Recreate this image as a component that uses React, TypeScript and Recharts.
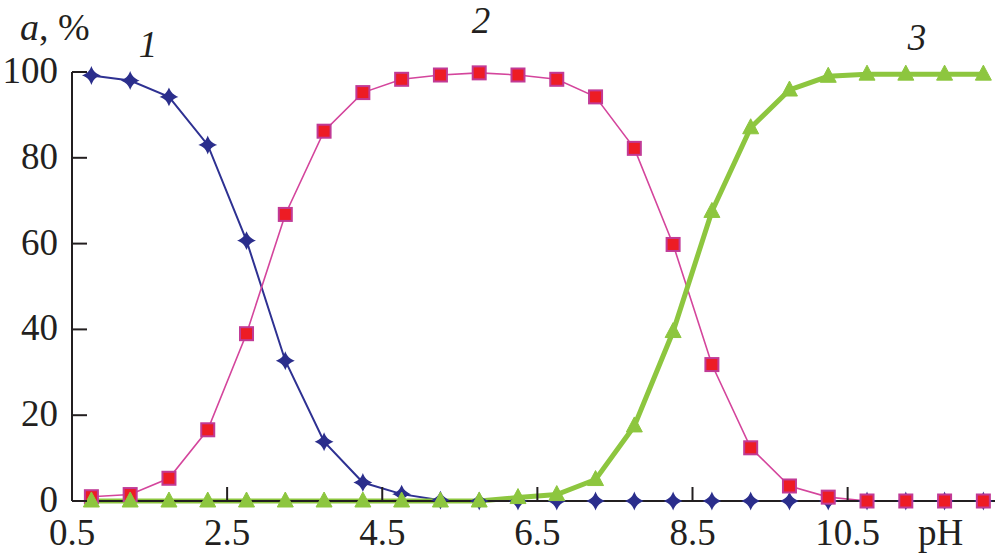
import React from 'react';
import { LineChart, Line, XAxis, YAxis } from 'recharts';

const phValues = [0.75, 1.25, 1.75, 2.25, 2.75, 3.25, 3.75, 4.25, 4.75, 5.25, 5.75, 6.25, 6.75, 7.25, 7.75, 8.25, 8.75, 9.25, 9.75, 10.25, 10.75, 11.25, 11.75, 12.25];
const speciesOne = [99.2, 98, 94.2, 83, 60.7, 32.7, 13.8, 4.3, 1.6, 0.2, 0, 0, 0, 0, 0, 0, 0, 0, 0, 0, 0, 0, 0, 0];
const speciesTwo = [1, 1.5, 5.3, 16.6, 39, 66.8, 86.2, 95.2, 98.3, 99.3, 99.8, 99.3, 98.3, 94.2, 82.2, 59.8, 31.8, 12.4, 3.5, 0.9, 0, 0, 0, 0];
const speciesThree = [0, 0, 0, 0, 0, 0, 0, 0, 0, 0, 0, 0.8, 1.5, 5, 17.5, 39.5, 67.5, 87, 95.8, 99, 99.5, 99.5, 99.5, 99.5];
const xTicks = [0.5, 2.5, 4.5, 6.5, 8.5, 10.5];
const xTickLabels = ['0.5', '2.5', '4.5', '6.5', '8.5', '10.5'];
const yTicks = [0, 20, 40, 60, 80, 100];

const data = phValues.map((ph, i) => ({
  ph,
  s1: speciesOne[i],
  s2: speciesTwo[i],
  s3: speciesThree[i],
}));

const FONT = '"Liberation Serif", "Times New Roman", Times, "Nimbus Roman", "FreeSerif", "DejaVu Serif", serif';
const INK = '#231f20';
const textStyle: React.CSSProperties = { fontFamily: FONT, fontSize: 37 };

const XTick = (props: any) => {
  const { x, y, payload } = props;
  const idx = xTicks.indexOf(payload.value);
  const label = idx >= 0 ? xTickLabels[idx] : String(payload.value);
  return (
    <g>
      <line x1={x} x2={x} y1={y} y2={y - 14} stroke={INK} strokeWidth={2} />
      <text x={x} y={y + 44} textAnchor="middle" style={textStyle} fill={INK}>
        {label}
      </text>
    </g>
  );
};

const YTick = (props: any) => {
  const { x, y, payload } = props;
  return (
    <g>
      <line x1={x} x2={x + 15} y1={y} y2={y} stroke={INK} strokeWidth={2} />
      <text x={x - 14} y={y + 11} textAnchor="end" style={textStyle} fill={INK}>
        {String(payload.value)}
      </text>
    </g>
  );
};

const DiamondDot = (props: any) => {
  const { cx, cy, key } = props;
  if (cx == null || cy == null) return <g key={key} />;
  const r = 7.5;
  const c = 2.2;
  const d = `M ${cx} ${cy - r} Q ${cx + c} ${cy - c} ${cx + r} ${cy} Q ${cx + c} ${cy + c} ${cx} ${cy + r} Q ${cx - c} ${cy + c} ${cx - r} ${cy} Q ${cx - c} ${cy - c} ${cx} ${cy - r} Z`;
  return <path key={key} d={d} fill="#2b2e8c" stroke="#2b2e8c" strokeWidth={1.5} />;
};

const SquareDot = (props: any) => {
  const { cx, cy, key } = props;
  if (cx == null || cy == null) return <g key={key} />;
  const h = 6.5;
  return (
    <rect key={key} x={cx - h} y={cy - h} width={2 * h} height={2 * h} fill="#ed1c24" stroke="#c13a96" strokeWidth={2} />
  );
};

const TriangleDot = (props: any) => {
  const { cx, cy, key } = props;
  if (cx == null || cy == null) return <g key={key} />;
  const pts = `${cx},${cy - 9} ${cx - 8},${cy + 6} ${cx + 8},${cy + 6}`;
  return <polygon key={key} points={pts} fill="#8dc63f" stroke="#8dc63f" strokeWidth={1} />;
};

export default function App() {
  return (
    <div style={{ position: 'absolute', left: 0, top: 0, width: 996, height: 558, background: '#fff', fontFamily: FONT }}>
      <LineChart width={996} height={558} data={data} margin={{ top: 72, right: 1, bottom: 0, left: 0 }}>
        <XAxis
          dataKey="ph"
          type="number"
          domain={[0.5, 12.4]}
          ticks={xTicks}
          interval={0}
          allowDataOverflow
          height={57}
          tickSize={0}
          tickMargin={0}
          tickLine={false}
          axisLine={{ stroke: INK, strokeWidth: 2 }}
          tick={<XTick />}
        />
        <YAxis
          type="number"
          domain={[0, 100]}
          ticks={yTicks}
          interval={0}
          width={72}
          tickSize={0}
          tickMargin={0}
          tickLine={false}
          axisLine={{ stroke: INK, strokeWidth: 2 }}
          tick={<YTick />}
        />
        <Line type="linear" dataKey="s1" stroke="#2e3192" strokeWidth={2} dot={DiamondDot} isAnimationActive={false} />
        <Line type="linear" dataKey="s2" stroke="#d4459c" strokeWidth={1.6} dot={SquareDot} isAnimationActive={false} />
        <Line type="linear" dataKey="s3" stroke="#8dc63f" strokeWidth={5} dot={TriangleDot} isAnimationActive={false} />
      </LineChart>
      <svg
        width={996}
        height={558}
        style={{ position: 'absolute', left: 0, top: 0, pointerEvents: 'none' }}
      >
        <text x={20} y={40} style={{ fontFamily: FONT, fontSize: 38 }} fill={INK}>
          <tspan fontStyle="italic">a</tspan>
          <tspan>, %</tspan>
        </text>
        <text x={148} y={57} textAnchor="middle" style={{ ...textStyle, fontStyle: 'italic' }} fill={INK}>1</text>
        <text x={481} y={33} textAnchor="middle" style={{ ...textStyle, fontStyle: 'italic' }} fill={INK}>2</text>
        <text x={917} y={50} textAnchor="middle" style={{ ...textStyle, fontStyle: 'italic' }} fill={INK}>3</text>
        <text x={918} y={545} style={textStyle} fill={INK}>pH</text>
      </svg>
    </div>
  );
}
